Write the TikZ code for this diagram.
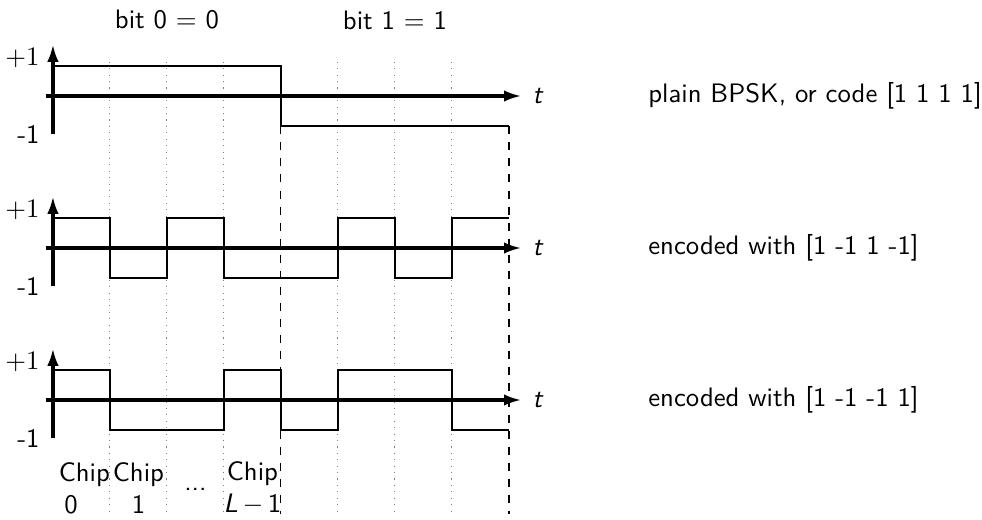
\documentclass[tikz,border=0pt]{standalone}
\usepackage{tikz}
\usepackage{amsmath}
\usetikzlibrary{arrows.meta}

\begin{document}
\begin{tikzpicture}[x=0.75cm, y=1cm, font=\sffamily,
    axis/.style={-{Latex[length=2.3mm,width=1.5mm]}, very thick},
    signal/.style={thick},
    chipline/.style={gray, dotted},
    bitline/.style={black, dashed}]

    \useasboundingbox (-0.929,-5.566) rectangle (16.299,1.263);

    % chip and bit borders
    \foreach \x in {1,2,3,5,6,7}
      \draw[chipline] (\x,0.45) -- (\x,-5.5);
    \draw[bitline] (4,-0.4) -- (4,-5.5);
    \draw[bitline] (8,-0.4) -- (8,-5.5);

    \node (bitzero) at (2,1.0) {bit 0 $=$ 0};
    \node (bitone) at (6,1.0) {bit 1 $=$ 1};

    % the three time axes
    \foreach \y/\name/\txt in {0/plain/{plain BPSK, or code [1 1 1 1]},
                              -2/alt/{encoded with [1 -1 1 -1]},
                              -4/mix/{encoded with [1 -1 -1 1]}} {
      \draw[axis] (-0.13,\y) -- (8.22,\y);
      \draw[axis] (0,\y-0.5) -- (0,\y+0.68);
      \node[anchor=east] (plus\name) at (-0.07,\y+0.5) {$+1$};
      \node[anchor=east] (minus\name) at (-0.07,\y-0.5) {-1};
      \node[right] (t\name) at (8.25,\y) {\textit{t}};
      \node[anchor=west] (label\name) at (10.28,\y) {\txt};
    }

    % signals
    \draw[signal] (0,0.4) -- (4,0.4) -- (4,-0.4) -- (8,-0.4);
    \draw[signal] (0,-1.6) -- (1,-1.6) -- (1,-2.4) -- (2,-2.4) -- (2,-1.6) -- (3,-1.6) -- (3,-2.4) -- (5,-2.4)
      -- (5,-1.6) -- (6,-1.6) -- (6,-2.4) -- (7,-2.4) -- (7,-1.6) -- (8,-1.6);
    \draw[signal] (0,-3.6) -- (1,-3.6) -- (1,-4.4) -- (3,-4.4) -- (3,-3.6) -- (4,-3.6) -- (4,-4.4) -- (5,-4.4)
      -- (5,-3.6) -- (7,-3.6) -- (7,-4.4) -- (8,-4.4);

    % chip labels
    \node[align=center] (chipzero) at (0.55,-5.16) {Chip\\0\rule{1em}{0pt}};
    \node[align=center] (chipone) at (1.5,-5.16) {Chip\\1};
    \node (chipdots) at (2.5,-5.17) {...};
    \node[align=center] (chiplast) at (3.5,-5.16) {Chip\\\textit{L}$\,-\,$1};
  \end{tikzpicture}
\end{document}
